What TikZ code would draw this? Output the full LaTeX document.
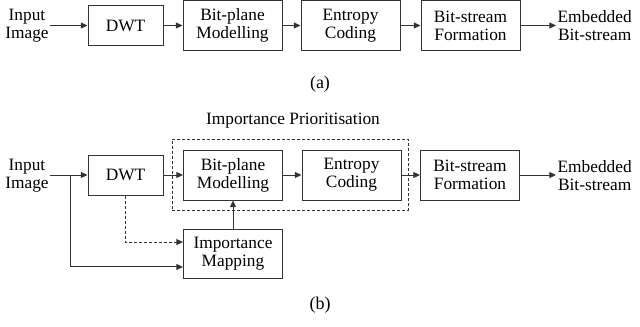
\documentclass[tikz,border=0pt]{standalone}
\usepackage{fontspec}
\setmainfont{Liberation Serif}
\usetikzlibrary{arrows.meta}
\begin{document}
\begin{tikzpicture}[x=0.75pt,y=-0.75pt,
  txt/.style={font=\fontsize{13}{13.5}\selectfont, align=center, inner sep=1pt},
  blk/.style={txt, draw=black!80, line width=0.75pt, minimum width=74.25pt, minimum height=37.5pt},
  smallblk/.style={blk, minimum width=56.25pt, minimum height=30pt},
  arr/.style={draw=black!80, line width=0.75pt, -{Triangle[length=5pt,width=4.5pt]}},
  dsh/.style={draw=black!80, line width=0.75pt, dash pattern=on 2.25pt off 1.5pt},
  sublabel/.style={font=\fontsize{13.5}{15}\selectfont, inner sep=0pt}]
\useasboundingbox (0,0) rectangle (640,326);
% ---------- (a) ----------
\node[txt] (ina) at (27,26) {Input\\Image};
\node[smallblk] (dwta) at (125.5,25.5) {DWT};
\node[blk] (bpa) at (232.5,25.5) {Bit-plane\\Modelling};
\node[blk] (eca) at (350.5,25.5) {Entropy\\Coding};
\node[blk] (bsa) at (470.5,25.5) {Bit-stream\\Formation};
\node[txt, anchor=west] (outa) at (556,26) {Embedded\\Bit-stream};
\draw[arr] (ina.east |- dwta.west) -- (dwta.west);
\draw[arr] (dwta) -- (bpa);
\draw[arr] (bpa) -- (eca);
\draw[arr] (eca) -- (bsa);
\draw[arr] (bsa.east) -- (outa.west |- bsa.east);
\node[sublabel] (capa) at (320,84) {(a)};
% ---------- (b) ----------
\node[txt] (title) at (293,121) {Importance Prioritisation};
\node[txt] (inb) at (27,176) {Input\\Image};
\node[smallblk] (dwtb) at (125.5,175) {DWT};
\node[blk] (bpb) at (233,175) {Bit-plane\\Modelling};
\node[blk] (ecb) at (351.5,175) {Entropy\\Coding};
\node[blk] (bsb) at (470,175) {Bit-stream\\Formation};
\node[txt, anchor=west] (outb) at (556,176) {Embedded\\Bit-stream};
\node[blk, minimum height=36.75pt] (imp) at (233,253.5) {Importance\\Mapping};
\node[dsh, inner sep=0pt, minimum width=177pt, minimum height=53.25pt] (prio) at (290,174.5) {};
\coordinate (br) at (70,175);
\draw[arr] (inb.east |- dwtb.west) -- (dwtb.west);
\draw[arr] (dwtb) -- (bpb);
\draw[arr] (bpb) -- (ecb);
\draw[arr] (ecb) -- (bsb);
\draw[arr] (bsb.east) -- (outb.west |- bsb.east);
\draw[arr] (imp) -- (bpb);
\draw[arr, dash pattern=on 2.25pt off 1.5pt] (dwtb.south) |- ([yshift=8.6pt]imp.west);
\draw[arr] (br) |- ([yshift=-10.1pt]imp.west);
\node[sublabel] (capb) at (320,305) {(b)};
\end{tikzpicture}
\end{document}
